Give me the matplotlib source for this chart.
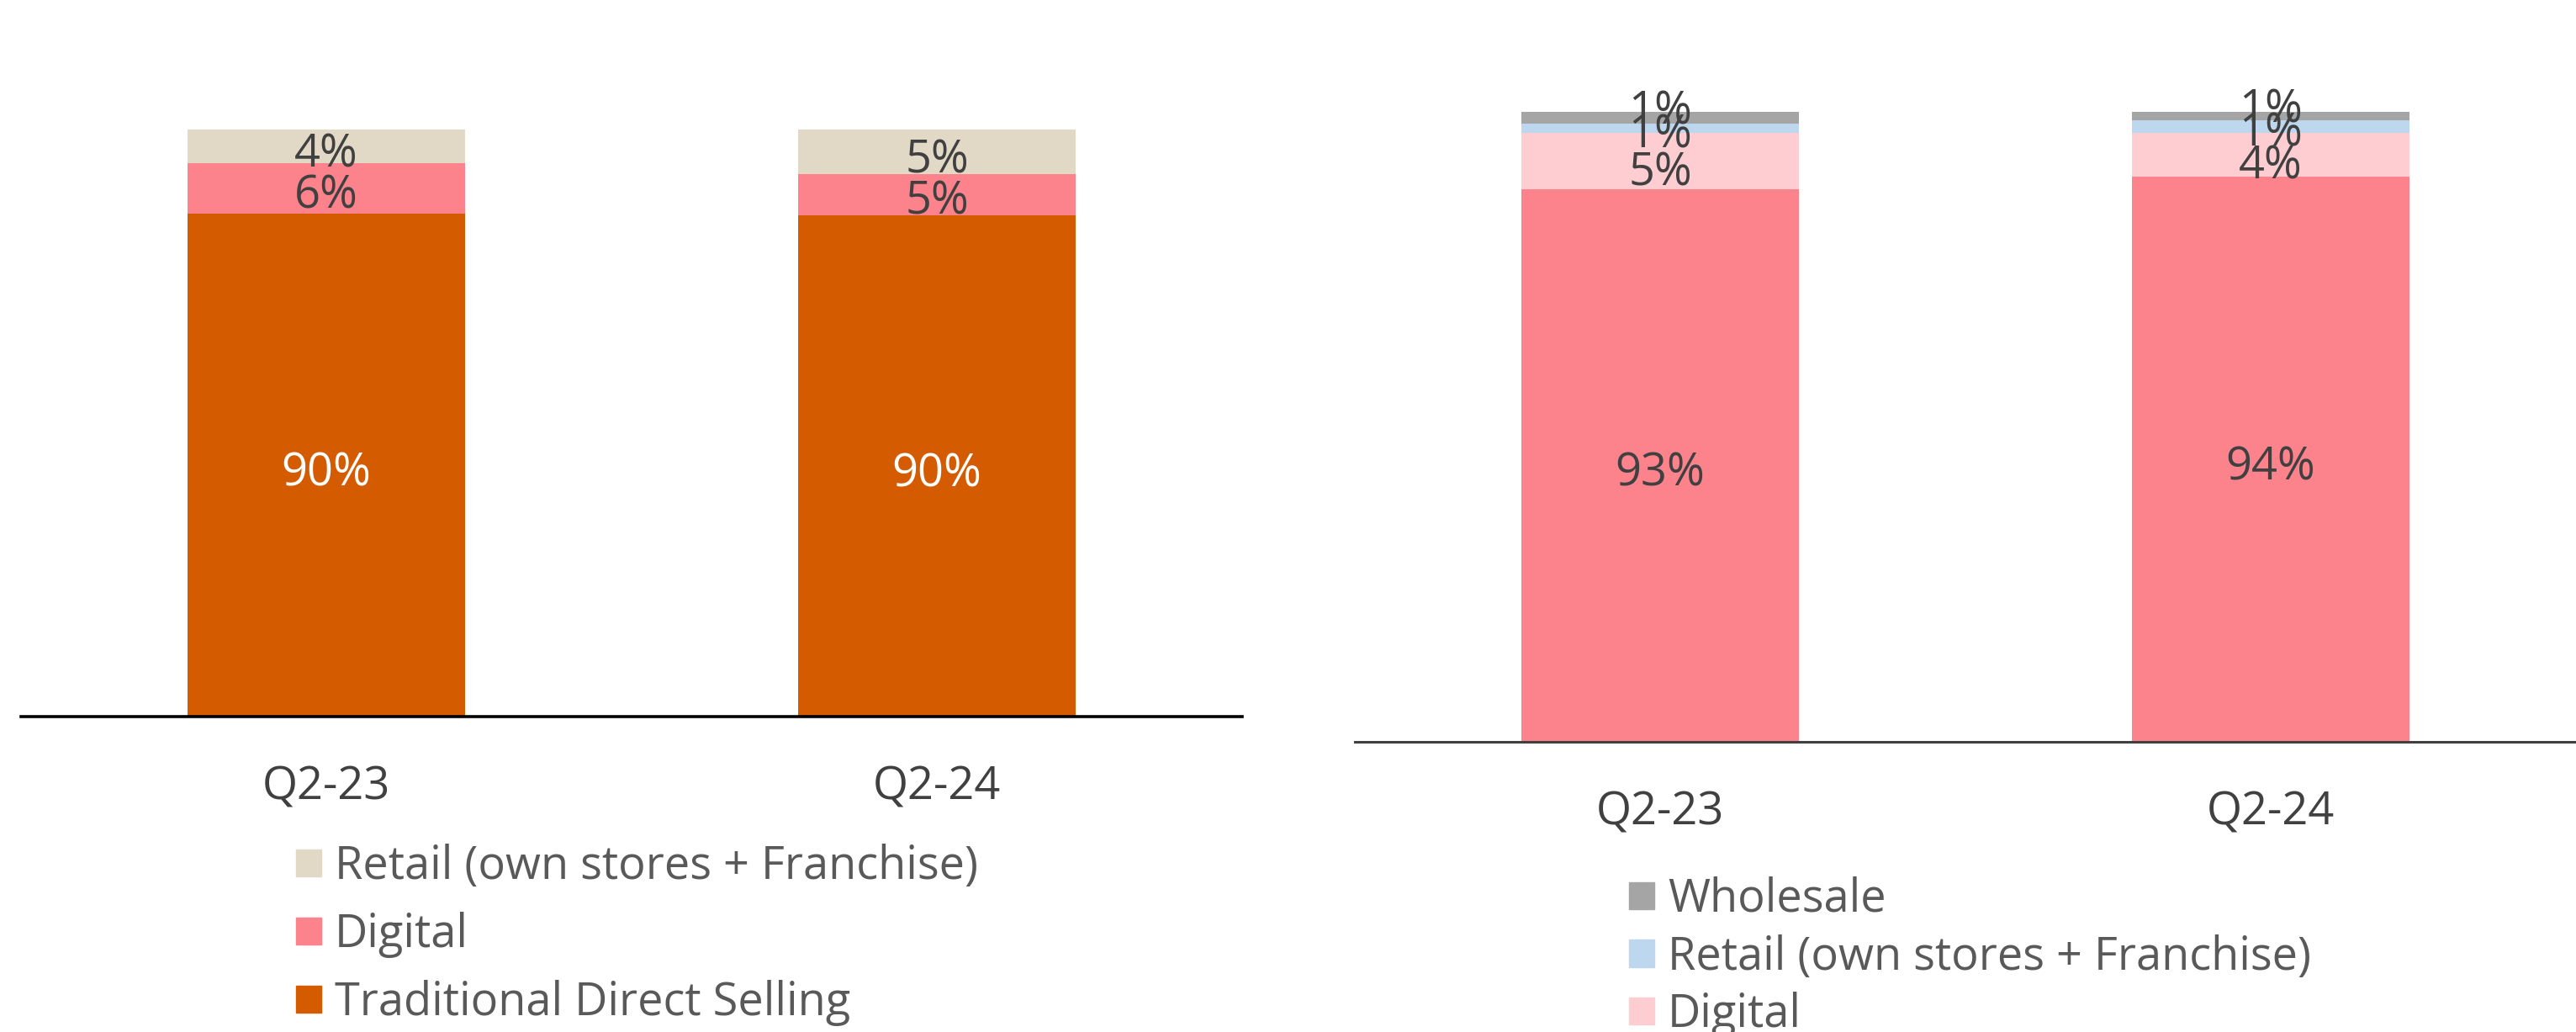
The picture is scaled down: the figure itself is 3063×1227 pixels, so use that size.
import matplotlib.pyplot as plt
from matplotlib.patches import Patch

plt.rcParams['font.family'] = ['Open Sans', 'DejaVu Sans']

quarters = ['Q2-23', 'Q2-24']

# left chart (shares in %)
left_direct = [90.0, 89.8]
left_digital = [6.0, 4.9]
left_retail = [4.0, 5.3]

# right chart (shares in %)
right_direct = [93.0, 94.1]
right_digital = [5.0, 3.9]
right_retail = [0.8, 1.1]
right_wholesale = [1.1, 0.8]

c_orange = '#D45B00'
c_red = '#FC828C'
c_beige = '#E2D8C6'
c_pink = '#FDCDD1'
c_blue = '#BDD7EE'
c_gray = '#A5A5A5'
txt = '#404040'
leg_txt = '#595959'

W, H = 3063, 1227
fig = plt.figure(figsize=(W / 100, H / 100), dpi=100)

ax1 = fig.add_axes([25 / W, (H - 852) / H, 1452 / W, 852 / H])
ax2 = fig.add_axes([1611 / W, (H - 882) / H, 1452 / W, 882 / H])

x = range(len(quarters))
bw = 0.455
fs = 39


def draw(ax, series, colors, label_colors, base, offsets):
    bottom = [0.0] * len(quarters)
    for vals, col, lc, off in zip(series, colors, label_colors, offsets):
        ax.bar(x, vals, bw, bottom=bottom, color=col, linewidth=0)
        for i, (v, b) in enumerate(zip(vals, bottom)):
            lo = max(b, base)
            ax.annotate(f'{round(v):.0f}%', (i, (lo + b + v) / 2), xytext=(0, off),
                        textcoords='offset points', ha='center', va='center',
                        fontsize=fs, color=lc, annotation_clip=False)
        bottom = [b + v for b, v in zip(bottom, vals)]


draw(ax1, [left_direct, left_digital, left_retail], [c_orange, c_red, c_beige],
     ['white', txt, txt], 30, [-7, -6, -7])
ax1.set_ylim(30, 115.5)

draw(ax2, [right_direct, right_digital, right_retail, right_wholesale],
     [c_red, c_pink, c_blue, c_gray], [txt, txt, txt, txt], 44, [-7, -10, -6, 5])
ax2.set_ylim(44, 109.8)

for ax, lc, lw in [(ax1, 'black', 2.6), (ax2, '#404040', 2.2)]:
    ax.set_xlim(-0.5, 1.5)
    ax.set_xticks(list(x))
    ax.set_xticklabels(quarters, fontsize=fs, color=txt)
    ax.tick_params(axis='x', length=0, pad=41)
    ax.set_yticks([])
    for s in ['top', 'right', 'left']:
        ax.spines[s].set_visible(False)
    ax.spines['bottom'].set_color(lc)
    ax.spines['bottom'].set_linewidth(lw)
    ax.patch.set_alpha(0)

h1 = [Patch(color=c_beige), Patch(color=c_red), Patch(color=c_orange)]
l1 = ['Retail (own stores + Franchise)', 'Digital', 'Traditional Direct Selling']
fig.legend(h1, l1, loc='upper left', bbox_to_anchor=(352 / W, 1 - 1003 / H),
           frameon=False, fontsize=fs, labelcolor=leg_txt, borderpad=0,
           borderaxespad=0, handlelength=0.55, handleheight=0.55,
           handletextpad=0.3, labelspacing=0.48)

h2 = [Patch(color=c_gray), Patch(color=c_blue), Patch(color=c_pink)]
l2 = ['Wholesale', 'Retail (own stores + Franchise)', 'Digital']
fig.legend(h2, l2, loc='upper left', bbox_to_anchor=(1937 / W, 1 - 1042 / H),
           frameon=False, fontsize=fs, labelcolor=leg_txt, borderpad=0,
           borderaxespad=0, handlelength=0.55, handleheight=0.55,
           handletextpad=0.3, labelspacing=0.25)

fig.savefig('out.png', dpi=100)
